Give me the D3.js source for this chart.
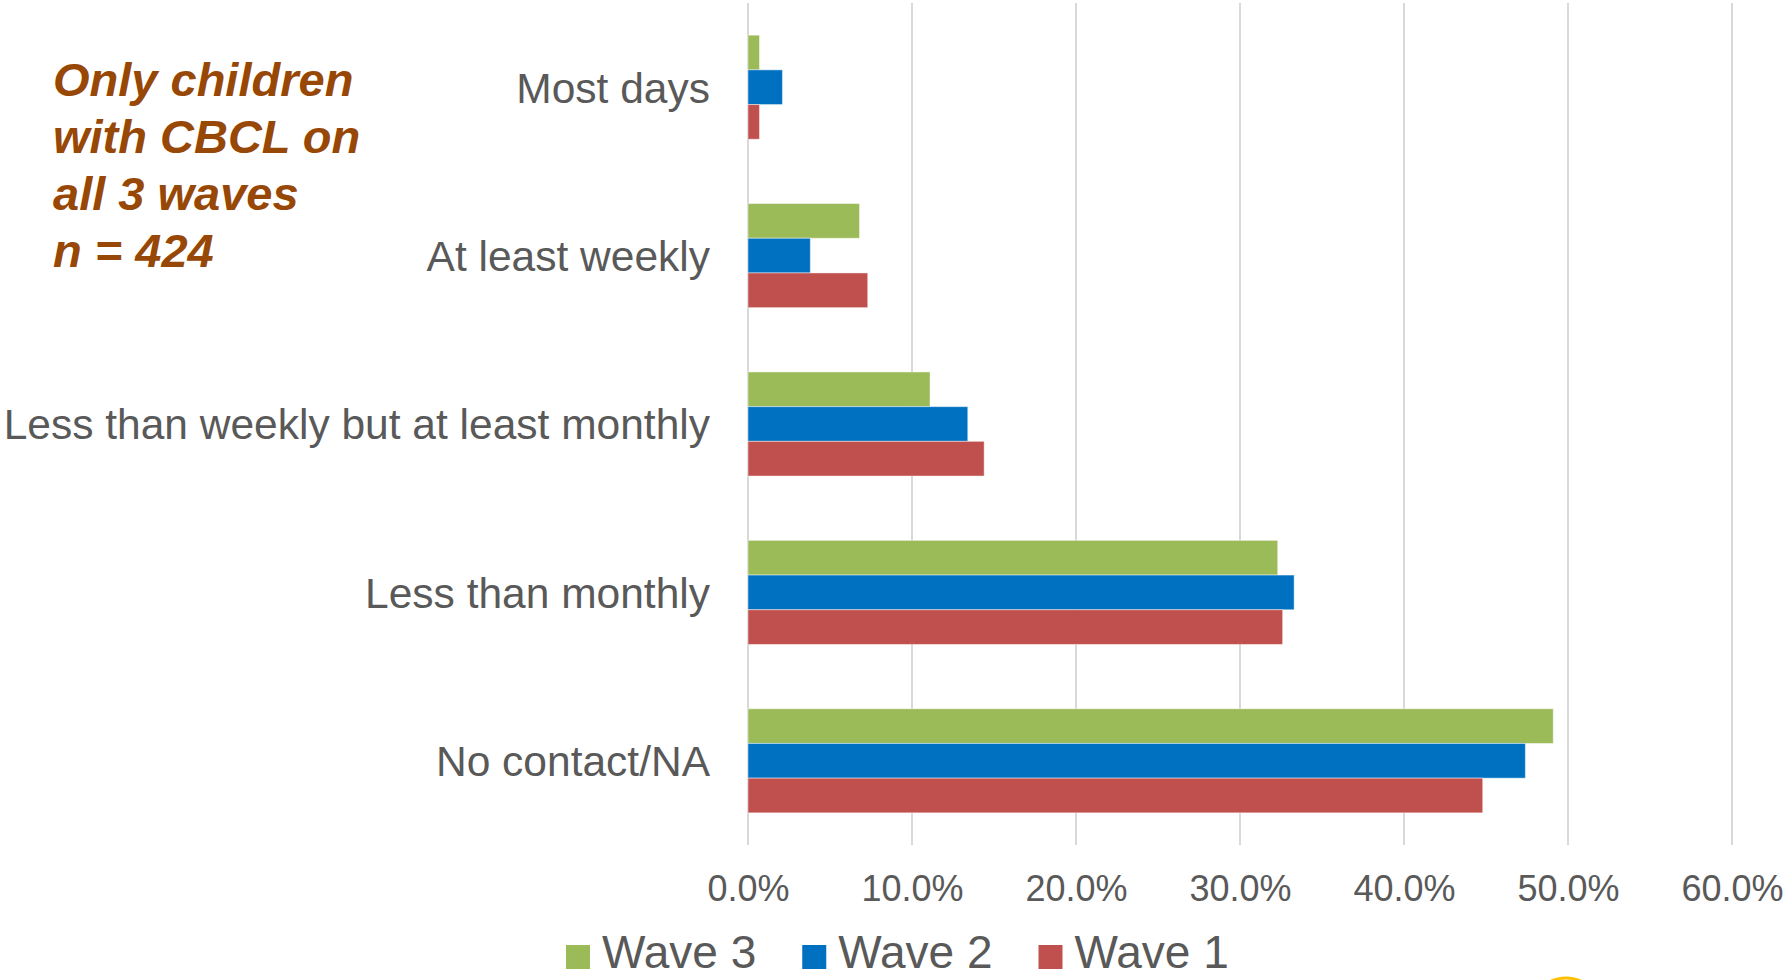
<!DOCTYPE html>
<html>
<head>
<meta charset="utf-8">
<script src="https://cdn.jsdelivr.net/npm/d3@7"></script>
<style>
  body { margin: 0; background: #ffffff; }
  svg { display: block; font-family: "Liberation Sans", Arial, sans-serif; }
</style>
</head>
<body>
<svg id="chart" width="1786" height="980"></svg>
<script>
// categories, top to bottom
const categories = ['Most days', 'At least weekly', 'Less than weekly but at least monthly',
                    'Less than monthly', 'No contact/NA'];
// waves, drawn top to bottom inside each category
const waves = ['Wave 3', 'Wave 2', 'Wave 1'];
// percent of children
const wave3_values = [0.7, 6.8, 11.1, 32.3, 49.1];
const wave2_values = [2.1, 3.8, 13.4, 33.3, 47.4];
const wave1_values = [0.7, 7.3, 14.4, 32.6, 44.8];
const x_ticks = [0, 10, 20, 30, 40, 50, 60];
const note_lines = ['Only children', 'with CBCL on', 'all 3 waves', 'n = 424'];

const wave_colors = {'Wave 3': '#9bbb59', 'Wave 2': '#0070c0', 'Wave 1': '#c0504d'};
const text_color = '#595959';
const grid_color = '#d9d9d9';

const plot_left = 748;
const plot_right = 1732;
const plot_top = 3;
const plot_bottom = 845;

let svg = d3.select('#chart');

let x = d3.scaleLinear()
          .domain([0, 60])
          .range([plot_left, plot_right]);

let y = d3.scaleBand()
          .domain(categories)
          .range([plot_top, plot_bottom])
          .paddingInner(0.382)
          .paddingOuter(0.191);

let y_inner = d3.scaleBand()
                .domain(waves)
                .range([0, y.bandwidth()]);

let series_values = {'Wave 3': wave3_values, 'Wave 2': wave2_values, 'Wave 1': wave1_values};
let rows = [];
categories.forEach(function(cat, i){
    waves.forEach(function(w){
        rows.push({category: cat, wave: w, value: series_values[w][i]});
    });
});

// vertical gridlines
svg.append('g')
   .selectAll('line')
   .data(x_ticks)
   .enter()
   .append('line')
   .attr('x1', function(d){return x(d);})
   .attr('x2', function(d){return x(d);})
   .attr('y1', plot_top)
   .attr('y2', plot_bottom)
   .attr('stroke', grid_color)
   .attr('stroke-width', 2);

// bars
svg.append('g')
   .selectAll('rect')
   .data(rows)
   .enter()
   .append('rect')
   .attr('x', x(0))
   .attr('y', function(d){return y(d.category) + y_inner(d.wave);})
   .attr('width', function(d){return x(d.value) - x(0);})
   .attr('height', y_inner.bandwidth())
   .attr('fill', function(d){return wave_colors[d.wave];})
   .attr('stroke', '#ffffff')
   .attr('stroke-opacity', 0.45)
   .attr('stroke-width', 1);

// x axis labels
let x_axis = d3.axisBottom(x)
               .tickValues(x_ticks)
               .tickSize(0)
               .tickPadding(0)
               .tickFormat(function(d){return d3.format('.1f')(d) + '%';});

let x_axis_g = svg.append('g')
                  .attr('transform', 'translate(0,' + plot_bottom + ')')
                  .call(x_axis);
x_axis_g.select('.domain').remove();
x_axis_g.selectAll('text')
        .attr('y', 56)
        .attr('dy', 0)
        .attr('fill', text_color)
        .style('font-size', '36px')
        .style('font-family', '"Liberation Sans", Arial, sans-serif');

// category labels
let y_axis = d3.axisLeft(y)
               .tickSize(0)
               .tickPadding(38);

let y_axis_g = svg.append('g')
                  .attr('transform', 'translate(' + plot_left + ',0)')
                  .call(y_axis);
y_axis_g.select('.domain').remove();
y_axis_g.selectAll('text')
        .attr('dy', '0.36em')
        .attr('fill', text_color)
        .style('font-size', '42.5px')
        .style('font-family', '"Liberation Sans", Arial, sans-serif');

// legend
let legend = svg.append('g');
let legend_x = 566;
waves.forEach(function(w){
    legend.append('rect')
          .attr('x', legend_x)
          .attr('y', 945)
          .attr('width', 24)
          .attr('height', 24)
          .attr('fill', wave_colors[w]);
    let label = legend.append('text')
                      .attr('x', legend_x + 36)
                      .attr('y', 968)
                      .attr('fill', text_color)
                      .style('font-size', '46px')
                      .text(w);
    legend_x += 36 + label.node().getComputedTextLength() + 46;
});

// note at top left
svg.append('g')
   .selectAll('text')
   .data(note_lines)
   .enter()
   .append('text')
   .attr('x', 53)
   .attr('y', function(d, i){return 96 + i*57;})
   .attr('fill', '#974706')
   .style('font-size', '47px')
   .style('font-weight', 'bold')
   .style('font-style', 'italic')
   .text(function(d){return d;});

// edge of the yellow logo peeking in at the bottom
svg.append('ellipse')
   .attr('cx', 1566)
   .attr('cy', 1010)
   .attr('rx', 34)
   .attr('ry', 32)
   .attr('fill', 'none')
   .attr('stroke', '#ffc000')
   .attr('stroke-width', 3);
</script>
</body>
</html>
